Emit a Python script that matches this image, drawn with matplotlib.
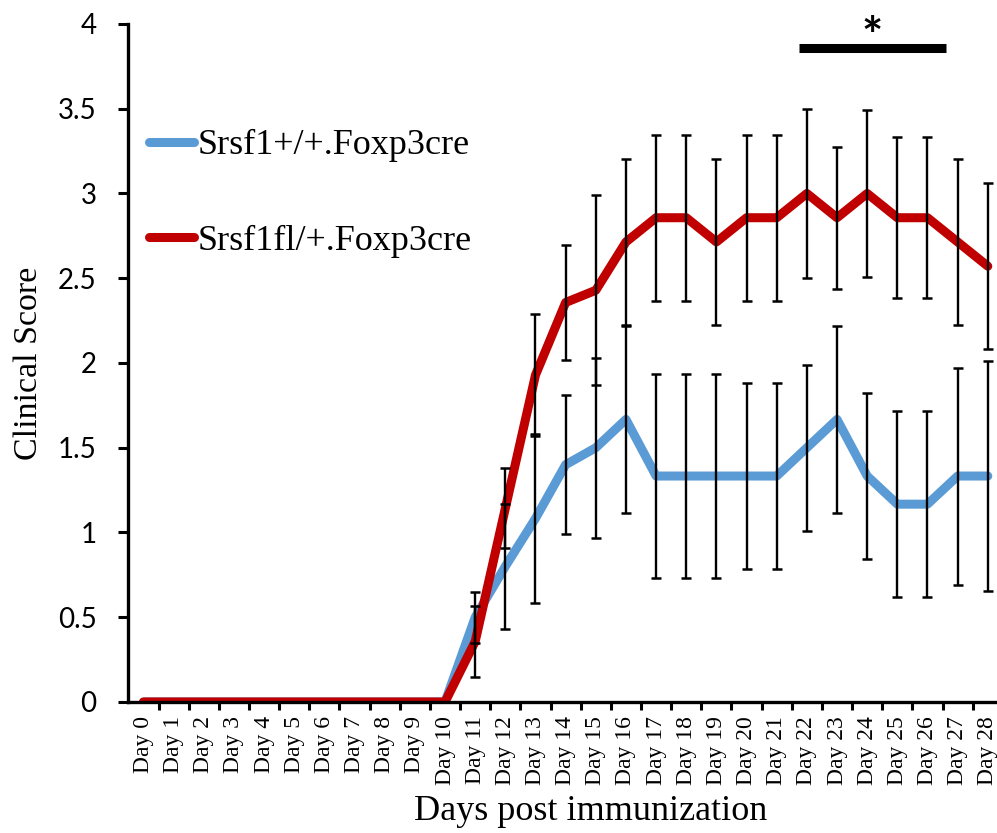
import numpy as np
import matplotlib
matplotlib.use("Agg")
import matplotlib.pyplot as plt
from matplotlib.ticker import FixedLocator

# --- data: mean clinical score and error per day ---------------------------
days = list(range(29))
day_labels = [f"Day {d}" for d in days]

wt_label = "Srsf1+/+.Foxp3cre"
wt_mean = [0] * 11 + [0.5, 0.8, 1.083, 1.4, 1.5, 1.667, 1.333, 1.333, 1.333,
                      1.333, 1.333, 1.5, 1.667, 1.333, 1.167, 1.167, 1.333, 1.333]
wt_err = [0] * 11 + [0.15, 0.37, 0.5, 0.41, 0.53, 0.55, 0.6, 0.6, 0.6,
                     0.55, 0.55, 0.49, 0.55, 0.49, 0.55, 0.55, 0.64, 0.68]

het_label = "Srsf1fl/+.Foxp3cre"
het_mean = [0] * 11 + [0.357, 1.143, 1.929, 2.357, 2.429, 2.714, 2.857, 2.857, 2.714,
                       2.857, 2.857, 3.0, 2.857, 3.0, 2.857, 2.857, 2.714, 2.571]
het_err = [0] * 11 + [0.21, 0.236, 0.36, 0.34, 0.56, 0.49, 0.49, 0.49, 0.49,
                      0.49, 0.49, 0.5, 0.42, 0.49, 0.475, 0.475, 0.49, 0.49]

y_ticks = [0, 0.5, 1, 1.5, 2, 2.5, 3, 3.5, 4]
y_tick_labels = ["0", "0.5", "1", "1.5", "2", "2.5", "3", "3.5", "4"]

# significance bracket (day range) and marker
sig_start, sig_end = 21.75, 26.6
sig_text = "*"

BLUE = "#5B9BD5"
RED = "#C00000"
SERIF = ["Liberation Serif", "DejaVu Serif"]
SANS = ["Lato", "DejaVu Sans"]

fig = plt.figure(figsize=(9.97, 8.33), dpi=100)
ax = fig.add_axes([0.1288, 0.1573, 0.8771, 0.8139])


def draw_series(mean, err, color, label):
    x = np.array(days)
    m = np.array(mean, dtype=float)
    e = np.array(err, dtype=float)
    ax.plot(x, m, color=color, lw=6.5, solid_joinstyle="round",
            solid_capstyle="round", label=label, zorder=2)
    has = e > 0
    ax.errorbar(x[has], m[has], yerr=e[has], fmt="none", ecolor="black",
                elinewidth=1.7, capsize=3.4, capthick=1.8, zorder=3)


draw_series(wt_mean, wt_err, BLUE, wt_label)
draw_series(het_mean, het_err, RED, het_label)

ax.set_xlim(-0.5, 28.5)
ax.set_ylim(0, 4)

# category axis: labels in the middle, tick marks between categories
ax.xaxis.set_major_locator(FixedLocator(days))
ax.set_xticklabels(day_labels, rotation=90, family=SERIF, fontsize=17)
ax.xaxis.set_minor_locator(FixedLocator(np.arange(0.5, 28.5, 1.0)))
ax.tick_params(axis="x", which="major", length=0, pad=10)
ax.tick_params(axis="x", which="minor", length=6, width=2.2, direction="out")

ax.yaxis.set_major_locator(FixedLocator(y_ticks))
ax.set_yticklabels(y_tick_labels, family=SANS, fontsize=20)
ax.tick_params(axis="y", length=7, width=2.2, pad=16)

for side in ("top", "right"):
    ax.spines[side].set_visible(False)
for side in ("left", "bottom"):
    ax.spines[side].set_linewidth(2.4)

ax.set_ylabel("Clinical Score", family=SERIF, fontsize=24.5)
ax.yaxis.set_label_coords(-0.097, 0.50)
ax.set_xlabel("Days post immunization", family=SERIF, fontsize=26)
ax.xaxis.set_label_coords(0.528, -0.137)

leg = ax.legend(loc="upper left", bbox_to_anchor=(149 / 997, 1 - 129 / 833),
                bbox_transform=fig.transFigure, frameon=False,
                prop={"family": SERIF, "size": 26}, handlelength=1.25,
                handletextpad=0.1, labelspacing=1.72, borderpad=0,
                borderaxespad=0)

# significance bar with asterisk
ax.plot([sig_start, sig_end], [3.858, 3.858], color="black", lw=6.5,
        solid_capstyle="butt", clip_on=False)
ax.text((sig_start + sig_end) / 2, 3.83, sig_text, ha="center", va="baseline",
        fontsize=36, fontweight="bold", family=SANS, clip_on=False)

fig.savefig("out.png", dpi=100)
